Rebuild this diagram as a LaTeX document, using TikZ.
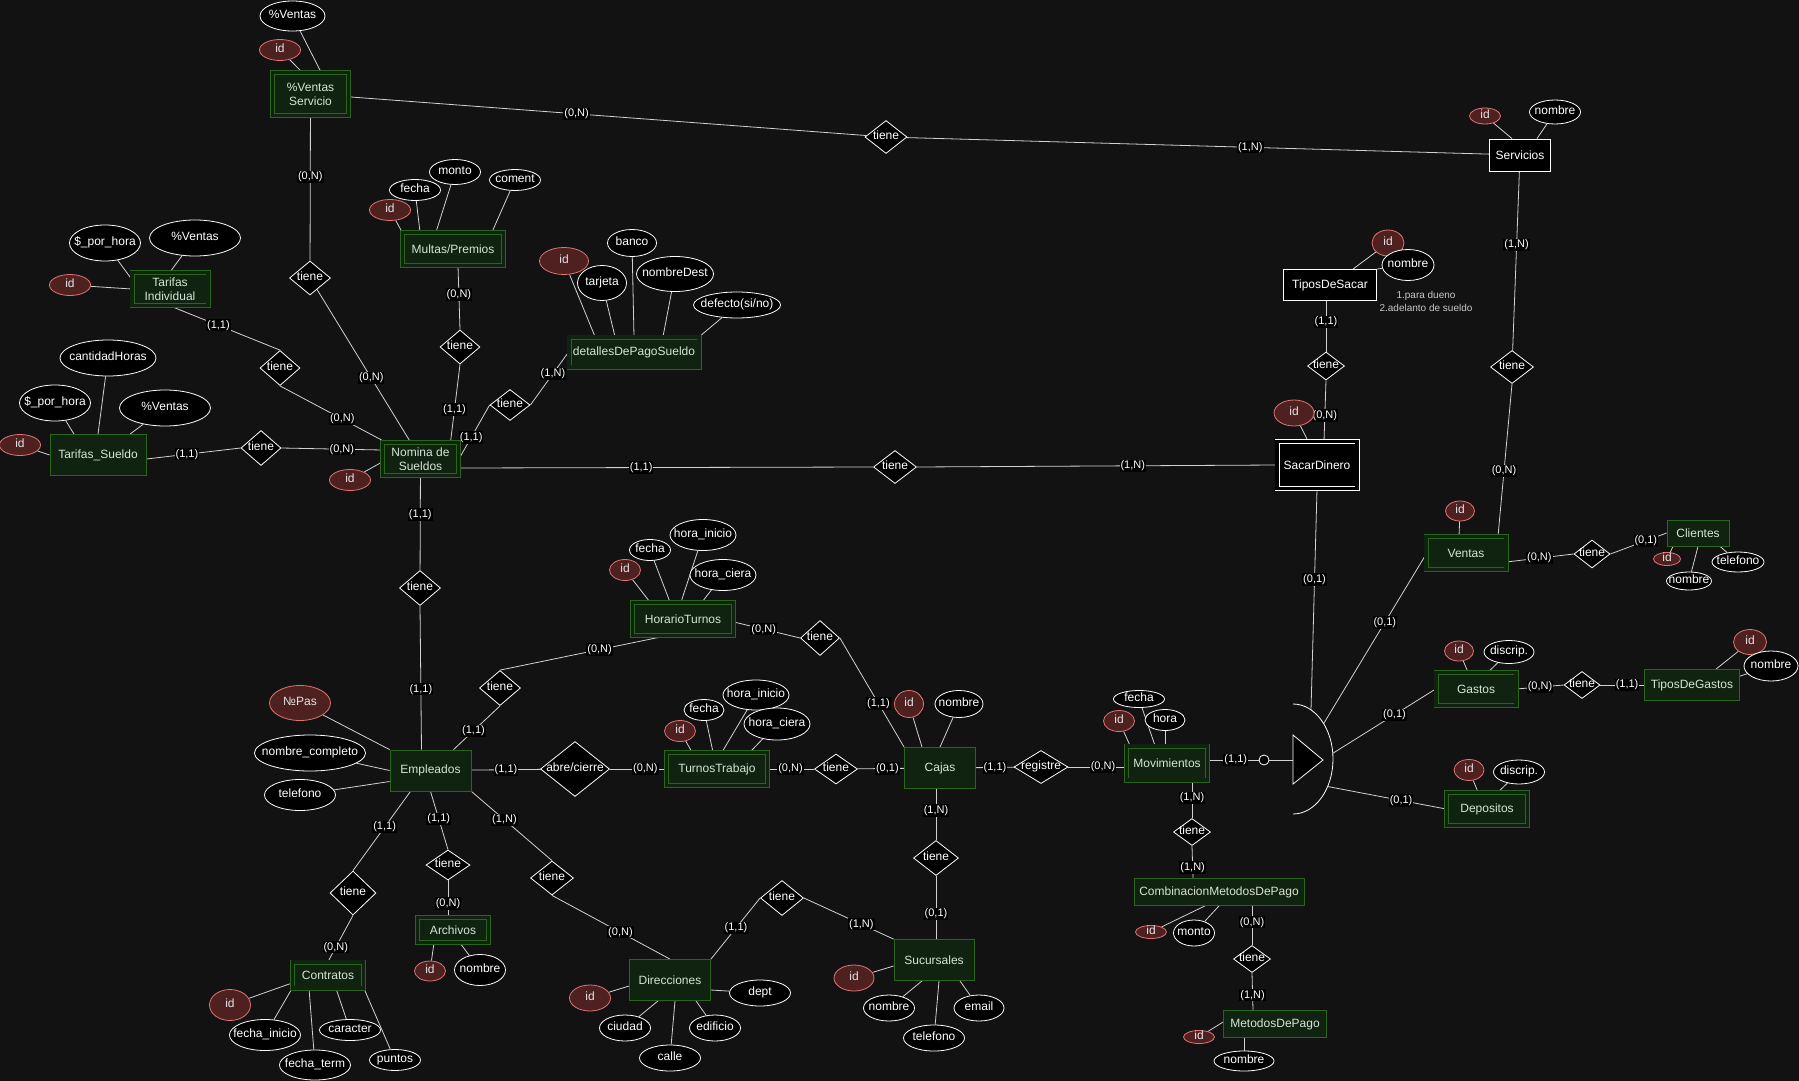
\documentclass[tikz,border=0pt]{standalone}
\usepackage{fontspec}
\setmainfont{Liberation Sans}
\usetikzlibrary{shapes.geometric}

\definecolor{bgDark}{RGB}{18,18,18}
\definecolor{entFill}{RGB}{16,34,16}
\definecolor{entLine}{RGB}{45,100,28}
\definecolor{entText}{RGB}{215,228,215}
\definecolor{keyFill}{RGB}{78,32,32}
\definecolor{keyLine}{RGB}{225,115,115}
\definecolor{linkGray}{RGB}{210,210,210}
\definecolor{noteGray}{RGB}{200,200,200}

\pgfdeclarelayer{bg}
\pgfdeclarelayer{edges}
\pgfsetlayers{bg,edges,main}

\tikzset{
  ztext/.style={inner sep=0pt, text height=4.3pt, text depth=-4.3pt,
    execute at begin node={\hbox to 0pt\bgroup\hss},
    execute at end node={\hss\egroup}},
  ent/.style 2 args={rectangle, draw=entLine, fill=entFill, text=entText, line width=0.8pt,
    inner sep=0pt, align=center, minimum width=#1pt, minimum height=#2pt},
  weak/.style 2 args={rectangle, draw=entLine, double=entFill, double distance=3.4pt, line width=0.8pt,
    fill=entFill, text=entText, inner sep=0pt, align=center,
    minimum width={#1pt-5pt}, minimum height={#2pt-5pt}},
  wbox/.style 2 args={rectangle, draw=white, fill=black, text=white, line width=0.9pt,
    inner sep=0pt, minimum width=#1pt, minimum height=#2pt},
  wweak/.style 2 args={rectangle, draw=white, double=black, double distance=3.4pt, line width=0.8pt,
    fill=black, text=white, inner sep=0pt, minimum width={#1pt-5pt}, minimum height={#2pt-5pt}},
  rel/.style 2 args={diamond, draw=white, fill=black, text=white, line width=0.8pt, ztext,
    minimum width=#1pt, minimum height=#2pt},
  attr/.style={ellipse, draw=white, fill=black, text=white, line width=0.8pt, ztext},
  keyattr/.style={ellipse, draw=keyLine, fill=keyFill, text=white!90!black, line width=0.8pt, ztext},
  card/.style={fill=black, text=white, font=\fontsize{11}{12}\selectfont, inner sep=1pt}
}

\begin{document}
\begin{tikzpicture}[x=1pt, y=-1pt, font=\fontsize{12}{14}\selectfont]
  \useasboundingbox (0,0) rectangle (1799,1081);
  \begin{pgfonlayer}{bg}
    \fill[bgDark] (0,0) rectangle (1799,1081);
  \end{pgfonlayer}

  % Entities
  \node[weak={81}{48}] (vServ) at (310.5,94) {\%Ventas\\Servicio};
  \node[weak={106}{38}] (mult) at (453,249) {Multas/Premios};
  \node[weak={81}{38}] (tarInd) at (170,289) {Tarifas\\Individual};
  \node[weak={135}{35}] (det) at (634,352) {detallesDePagoSueldo};
  \node[ent={96}{41}] (tarSue) at (98,455) {Tarifas\_Sueldo};
  \node[weak={81}{38}] (nom) at (420.5,459) {Nomina de\\Sueldos};
  \node[wbox={61}{32}] (serv) at (1520,155) {Servicios};
  \node[wbox={93}{31}] (tSacar) at (1330,285) {TiposDeSacar};
  \node[wweak={85}{52}] (sacar) at (1317,465) {SacarDinero};
  \node[weak={85}{38}] (ventas) at (1466,553) {Ventas};
  \node[ent={62}{26}] (cli) at (1698,533) {Clientes};
  \node[weak={85}{38}] (gastos) at (1476,689) {Gastos};
  \node[ent={95}{31}] (tGastos) at (1692,685) {TiposDeGastos};
  \node[weak={86}{38}] (depo) at (1487,809) {Depositos};
  \node[weak={106}{38}] (hor) at (683,619) {HorarioTurnos};
  \node[ent={81}{41}] (emp) at (430.5,770.5) {Empleados};
  \node[weak={106}{38}] (turnos) at (717,769) {TurnosTrabajo};
  \node[ent={71}{41}] (cajas) at (940,768) {Cajas};
  \node[weak={86}{39}] (mov) at (1167,763) {Movimientos};
  \node[ent={170}{27}] (comb) at (1219,892) {CombinacionMetodosDePago};
  \node[ent={103}{27}] (metodos) at (1275,1024) {MetodosDePago};
  \node[ent={80}{41}] (suc) at (934,960) {Sucursales};
  \node[ent={81}{41}] (dir) at (670,980) {Direcciones};
  \node[weak={76}{30}] (archivos) at (453,930) {Archivos};
  \node[weak={76}{31}] (contr) at (328,975) {Contratos};

  % Relations
  \node[rel={42}{33}] (r1) at (886,137) {tiene};
  \node[rel={41}{34}] (r2) at (310,278) {tiene};
  \node[rel={40}{35}] (r3) at (280,368) {tiene};
  \node[rel={40}{35}] (r4) at (261,448) {tiene};
  \node[rel={40}{34}] (r5) at (460,347) {tiene};
  \node[rel={40}{31}] (r6) at (510,405) {tiene};
  \node[rel={43}{33}] (r7) at (895,467) {tiene};
  \node[rel={41}{35}] (r8) at (420,588) {tiene};
  \node[rel={37}{28}] (r9) at (1326,366) {tiene};
  \node[rel={43}{33}] (r10) at (1512,367) {tiene};
  \node[rel={36}{28}] (r11) at (1592,554) {tiene};
  \node[rel={36}{27}] (r12) at (1582,685) {tiene};
  \node[rel={41}{35}] (r13) at (500,688) {tiene};
  \node[rel={39}{35}] (r14) at (820,638) {tiene};
  \node[rel={69}{55}] (r15) at (575,769) {abre/cierre};
  \node[rel={43}{30}] (r16) at (836,769) {tiene};
  \node[rel={54}{33}] (r17) at (1041,767) {registre};
  \node[rel={37}{27}] (r18) at (1192,832) {tiene};
  \node[rel={37}{27}] (r19) at (1252,959) {tiene};
  \node[rel={45}{35}] (r20) at (936,858) {tiene};
  \node[rel={43}{35}] (r21) at (782,898) {tiene};
  \node[rel={43}{34}] (r22) at (552,878) {tiene};
  \node[rel={44}{30}] (r23) at (448,865) {tiene};
  \node[rel={46}{44}] (r24) at (353,893) {tiene};

  % Key attributes
  \foreach \n/\x/\y/\w/\h/\t in {
      vsId/280/50/41/21/id, servId/1485/116/31/16/id, tsId/1388/243/32/26/id,
      sacId/1294/413/40/26/id, venId/1460/511/29/20/id, cliId/1667/559/27/13/id,
      gasId/1459/651/29/20/id, tgId/1750/642/33/25/id, depId/1469/770/30/21/id,
      tiId/70/285/41/21/id, muId/390/210/41/21/id, dId/564/261/49/27/id,
      tsuId/20/445/41/21/id, nomId/350/480/41/21/id, empPas/300/703/61/35/№Pas,
      cId/230/1005/41/31/id, aId/430/971/31/20/id, drId/590/998/41/26/id,
      sId/854/978/40/26/id, cjId/909/704/29/27/id, hId/625/570/31/21/id,
      tId/680/731/31/21/id, mId/1119/721/31/21/id, cbId/1151/932/31/13/id,
      mpId/1199/1037/31/13/id}
    \node[keyattr, minimum width=\w pt, minimum height=\h pt] (\n) at (\x,\y) {\t};

  % Attributes
  \foreach \n/\x/\y/\w/\h/\t in {
      vsVentas/292.5/16/65/30/{\%Ventas}, servNom/1555/112/51/24/nombre,
      tsNom/1408/265/52/31/nombre, cliNom/1689/581/45/18/nombre,
      cliTel/1738/562/52/20/telefono, gasDis/1509/652/50/23/discrip.,
      tgNom/1771/666/54/30/nombre, depDis/1519/772/51/24/discrip.,
      tiHora/105/243/71/36/{\$\_por\_hora}, tiVentas/195/238/91/36/{\%Ventas},
      muFecha/415/190/51/21/fecha, muMonto/455/172/51/25/monto,
      muComent/515/180/51/21/coment, dTarj/602/283/49/35/tarjeta,
      dBanco/632/243/49/27/banco, dNomD/675/274/77/35/nombreDest,
      dDef/737/305/87/26/{defecto(si/no)}, tsuHora/55/403/71/36/{\$\_por\_hora},
      tsuCant/108/358/96/36/cantidadHoras, tsuVentas/165/408/91/36/{\%Ventas},
      empNom/310/753/111/36/{nombre\_completo}, empTel/300/795/71/31/telefono,
      cFIni/265/1035/71/31/{fecha\_inicio}, cFTerm/315/1065/71/30/{fecha\_term},
      cCar/350/1030/61/21/caracter, cPunt/395/1060/51/21/puntos,
      aNom/480/970/51/31/nombre, drCiu/625/1028/51/26/ciudad,
      drCal/670/1058/61/26/calle, drEdi/715/1028/51/26/edificio,
      drDept/760/993/61/26/dept, sNom/889/1008/51/26/nombre,
      sTel/934/1038/61/26/telefono, sEmail/979/1008/50/26/email,
      cjNom/959/704/48/27/nombre, hFecha/650/550/41/21/fecha,
      hIni/703/535/66/31/{hora\_inicio}, hCie/723/575/66/31/{hora\_ciera},
      tFecha/704/710/40/21/fecha, tIni/756/695/66/30/{hora\_inicio},
      tCie/777/724/66/32/{hora\_ciera}, mFecha/1139/699/51/17/fecha,
      mHora/1165/720/40/21/hora, cbMonto/1194/933/41/26/monto,
      mpNom/1244/1061/60/20/nombre}
    \node[attr, minimum width=\w pt, minimum height=\h pt] (\n) at (\x,\y) {\t};

  % Note
  \node[text=noteGray, font=\fontsize{10}{13}\selectfont, align=center] (nota) at (1426,301.5)
    {1.para dueno\\2.adelanto de sueldo};

  % Union symbol
  \node[circle, draw=white, fill=black, line width=0.8pt, minimum size=10pt, inner sep=0pt] (uc) at (1264,760) {};
  \draw[white, fill=black, line width=0.8pt] (1293,735) -- (1323,760) -- (1293,784) -- cycle;
  \draw[white, line width=0.8pt] (1293,704) .. controls (1315.1,704) and (1333,728.6) .. (1333,759)
    .. controls (1333,789.4) and (1315.1,814) .. (1293,814);
  \coordinate (triL) at (1293,760);
  \coordinate (arcS) at (1311,710);
  \coordinate (arcV) at (1323.6,723.6);
  \coordinate (arcG) at (1332.8,753.3);
  \coordinate (arcD) at (1327.6,786.5);

  \begin{pgfonlayer}{edges}
  \begin{scope}[linkGray, line width=0.8pt]
    % Relation links
    \draw (vServ) -- node[card, pos=0.44] {(0,N)} (r1);
    \draw (r1) -- node[card, pos=0.59] {(1,N)} (serv);
    \draw (vServ) -- node[card, pos=0.42] {(0,N)} (r2);
    \draw (r2) -- node[card, pos=0.58] {(0,N)} ([xshift=-10pt]nom.north);
    \draw (tarInd.south) -- node[card, pos=0.44] {(1,1)} (r3.north);
    \draw (r3.south) -- node[card, pos=0.59] {(0,N)} ([xshift=-35pt]nom.north);
    \draw ([yshift=-4pt]tarSue.east) -- node[card, pos=0.43] {(1,1)} (r4.west);
    \draw (r4.east) -- node[card, pos=0.6] {(0,N)} ([yshift=9pt]nom.west);
    \draw ([xshift=5pt]mult.south) -- node[card, pos=0.45] {(0,N)} (r5.north);
    \draw (r5.south) -- node[card, pos=0.58] {(1,1)} ([xshift=30pt]nom.north);
    \draw (det.west) -- node[card, pos=0.41] {(1,N)} (r6.east);
    \draw (r6.west) -- node[card, pos=0.6] {(1,1)} (nom.east);
    \draw ([yshift=-9pt]nom.east) -- node[card, pos=0.44] {(1,1)} (r7.west);
    \draw (r7.east) -- node[card, pos=0.6] {(1,N)} (sacar.west);
    \draw (nom) -- node[card, pos=0.41] {(1,1)} (r8);
    \draw (r8.south) -- node[card, pos=0.58] {(1,1)} ([xshift=-9pt]emp.north);
    \draw ([xshift=-4pt]tSacar.south) -- node[card, pos=0.41] {(1,1)} (r9.north);
    \draw (r9.south) -- node[card, pos=0.58] {(0,N)} ([xshift=7pt]sacar.north);
    \draw (serv) -- node[card, pos=0.41] {(1,N)} (r10);
    \draw (r10.south) -- node[card, pos=0.57] {(0,N)} ([xshift=32pt]ventas.north);
    \draw ([yshift=-9pt]ventas.east) -- node[card, pos=0.49] {(0,N)} (r11.west);
    \draw (r11.east) -- node[card, pos=0.63] {(0,1)} (cli.west);
    \draw (gastos.east) -- node[card, pos=0.5] {(0,N)} (r12.west);
    \draw (r12.east) -- node[card, pos=0.61] {(1,1)} (tGastos.west);
    \draw ([xshift=-17pt]hor.south) -- node[card, pos=0.4] {(0,N)} (r13.north);
    \draw (r13.south) -- node[card, pos=0.57] {(1,1)} ([xshift=23pt]emp.north);
    \draw ([yshift=-3pt]hor.east) -- node[card, pos=0.45] {(0,N)} (r14.west);
    \draw (r14.east) -- node[card, pos=0.6] {(1,1)} (cajas.north west);
    \draw (emp) -- node[card, pos=0.5] {(1,1)} (r15);
    \draw (r15) -- node[card, pos=0.63] {(0,N)} (turnos);
    \draw (turnos) -- node[card, pos=0.49] {(0,N)} (r16);
    \draw (r16) -- node[card, pos=0.64] {(0,1)} (cajas);
    \draw (cajas) -- node[card, pos=0.5] {(1,1)} (r17);
    \draw (r17.east) -- node[card, pos=0.6] {(0,N)} ([yshift=-4pt]mov.west);
    \draw ([xshift=25pt]mov.south) -- node[card, pos=0.47] {(1,N)} (r18.north);
    \draw (r18.south) -- node[card, pos=0.67] {(1,N)} ([xshift=-26pt]comb.north);
    \draw ([xshift=33pt]comb.south) -- node[card, pos=0.42] {(0,N)} (r19.north);
    \draw (r19.south) -- node[card, pos=0.6] {(1,N)} ([xshift=-22pt]metodos.north);
    \draw ([xshift=-4pt]cajas.south) -- node[card, pos=0.42] {(1,N)} (r20.north);
    \draw (r20.south) -- node[card, pos=0.6] {(0,1)} ([xshift=2pt]suc.north);
    \draw (emp.south east) -- node[card, pos=0.41] {(1,N)} (r22.north);
    \draw (r22.south) -- node[card, pos=0.58] {(0,N)} (dir.north);
    \draw (dir.north east) -- node[card, pos=0.51] {(1,1)} (r21.west);
    \draw (r21.east) -- node[card, pos=0.64] {(1,N)} (suc.north west);
    \draw (emp.south) -- node[card, pos=0.47] {(1,1)} (r23.north);
    \draw (r23.south) -- node[card, pos=0.63] {(0,N)} ([xshift=-5pt]archivos.north);
    \draw ([xshift=-20pt]emp.south) -- node[card, pos=0.45] {(1,1)} (r24.north);
    \draw (r24.south) -- node[card, pos=0.69] {(0,N)} (contr.north);
    % Union links
    \draw (sacar.south) -- node[card, pos=0.41] {(0,1)} (arcS);
    \draw ([yshift=-2pt]ventas.west) -- node[card, pos=0.4] {(0,1)} (arcV);
    \draw (gastos.west) -- node[card, pos=0.4] {(0,1)} (arcG);
    \draw (depo.west) -- node[card, pos=0.38] {(0,1)} (arcD);
    \draw ([yshift=3pt]mov.east) -- node[card, pos=0.55] {(1,1)} (uc);
    \draw (uc) -- (triL);
    % Attribute links
    \draw (vsVentas) -- ([xshift=10.5pt]vServ.north);
    \draw (vsId) -- ([xshift=-8.5pt]vServ.north);
    \draw (servId) -- ([xshift=-8pt]serv.north);
    \draw (servNom) -- ([xshift=17pt]serv.north);
    \draw (tsId) -- ([xshift=23pt]tSacar.north);
    \draw (tsNom) -- (tSacar.north east);
    \draw (sacId) -- ([xshift=-9pt]sacar.north);
    \draw (venId) -- ([xshift=-7pt]ventas.north);
    \draw (cliId) -- ([xshift=-25pt]cli.south);
    \draw (cliNom) -- (cli.south);
    \draw (cliTel) -- ([xshift=22pt]cli.south);
    \draw (gasId) -- ([xshift=-8pt]gastos.north);
    \draw (gasDis) -- ([xshift=12pt]gastos.north);
    \draw (tgId) -- ([xshift=24pt]tGastos.north);
    \draw (tgNom) -- ([yshift=-7pt]tGastos.north east);
    \draw (depId) -- ([xshift=-9pt]depo.north);
    \draw (depDis) -- ([xshift=11pt]depo.north);
    \draw (tiId) -- (tarInd.west);
    \draw (tiHora) -- ([yshift=-7pt]tarInd.north west);
    \draw (tiVentas) -- (tarInd.north);
    \draw (muId) -- (mult.north west);
    \draw (muFecha) -- ([xshift=-33pt]mult.north);
    \draw (muMonto) -- ([xshift=-17pt]mult.north);
    \draw (muComent) -- ([xshift=39pt]mult.north);
    \draw (dId) -- ([xshift=-39pt]det.north);
    \draw (dTarj) -- ([xshift=-19pt]det.north);
    \draw (dBanco) -- (det.north);
    \draw (dNomD) -- ([xshift=29pt]det.north);
    \draw (dDef) -- (det.north east);
    \draw (tsuId) -- (tarSue.west);
    \draw (tsuHora) -- ([xshift=-24pt]tarSue.north);
    \draw (tsuCant) -- (tarSue.north);
    \draw (tsuVentas) -- ([xshift=32pt]tarSue.north);
    \draw (nomId) -- ([yshift=-3pt]nom.west);
    \draw (empPas) -- (emp.north west);
    \draw (empNom) -- (emp.west);
    \draw (empTel) -- ([yshift=-11pt]emp.west);
    \draw (cId) -- ([yshift=-8pt]contr.west);
    \draw (cFIni) -- (contr.south west);
    \draw (cFTerm) -- ([xshift=-19pt]contr.south);
    \draw (cCar) -- ([xshift=8pt]contr.south);
    \draw (cPunt) -- (contr.south east);
    \draw (aId) -- ([xshift=-19pt]archivos.south);
    \draw (aNom) -- ([xshift=7pt]archivos.south);
    \draw (drId) -- ([yshift=-6pt]dir.west);
    \draw (drCiu) -- ([xshift=-12pt]dir.south);
    \draw (drCal) -- ([xshift=5pt]dir.south);
    \draw (drEdi) -- ([xshift=26pt]dir.south);
    \draw (drDept) -- ([yshift=-10pt]dir.east);
    \draw (sId) -- ([yshift=-6pt]suc.west);
    \draw (sNom) -- ([xshift=-12pt]suc.south);
    \draw (sTel) -- ([xshift=5pt]suc.south);
    \draw (sEmail) -- ([xshift=26pt]suc.south);
    \draw (cjId) -- ([xshift=-18pt]cajas.north);
    \draw (cjNom) -- (cajas.north);
    \draw (hId) -- ([xshift=-33pt]hor.north);
    \draw (hFecha) -- ([xshift=-13pt]hor.north);
    \draw (hIni) -- ([xshift=-2pt]hor.north);
    \draw (hCie) -- ([xshift=19pt]hor.north);
    \draw (tId) -- ([xshift=-25pt]turnos.north);
    \draw (tFecha) -- ([xshift=-4pt]turnos.north);
    \draw (tIni) -- ([xshift=5pt]turnos.north);
    \draw (tCie) -- ([xshift=33pt]turnos.north);
    \draw (mId) -- ([xshift=-37pt]mov.north);
    \draw (mFecha) -- ([xshift=-12pt]mov.north);
    \draw (mHora) -- ([xshift=-2pt]mov.north);
    \draw (cbId) -- ([xshift=-14pt]comb.south);
    \draw (cbMonto) -- (comb.south);
    \draw (mpId) -- ([yshift=2pt]metodos.west);
    \draw (mpNom) -- ([xshift=-31pt]metodos.south);
  \end{scope}
  \end{pgfonlayer}
\end{tikzpicture}
\end{document}
